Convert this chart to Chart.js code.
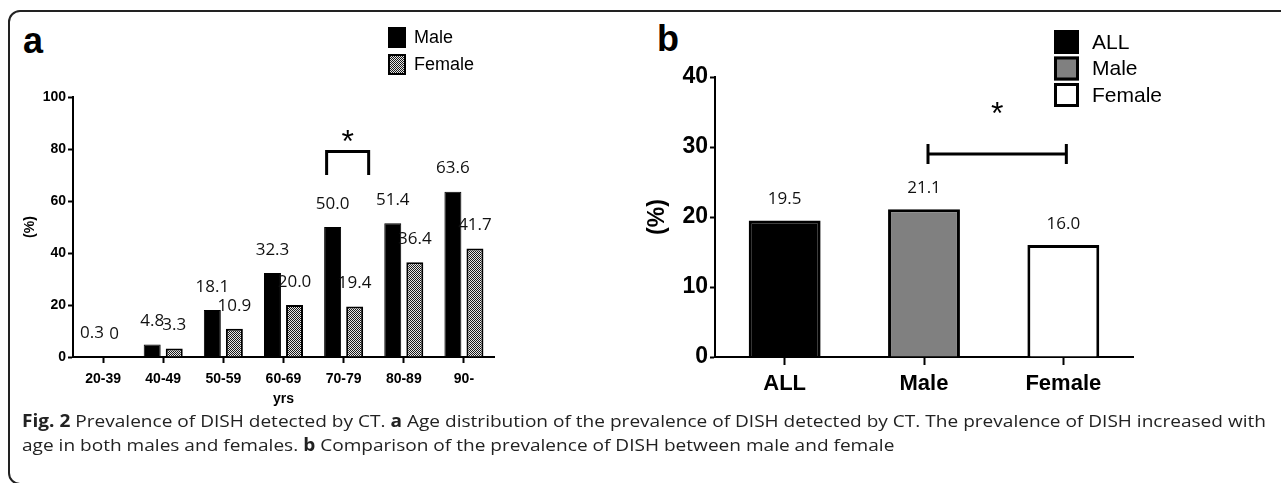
<!DOCTYPE html>
<html>
<head>
<meta charset="utf-8">
<script src="https://cdn.jsdelivr.net/npm/chart.js@4.4.1/dist/chart.umd.min.js"></script>
<style>
  body { margin: 0; background: #fff; width: 1281px; height: 483px; overflow: hidden; position: relative; font-family: 'Liberation Sans', Arial, sans-serif; }
  #frame { position: absolute; left: 8px; top: 10px; width: 1400px; height: 471px; border: 2px solid #222; border-radius: 12px; }
  .panel { position: absolute; font-weight: bold; font-size: 36px; line-height: 1; color: #000; }
  canvas { position: absolute; }
  #cap { position: absolute; left: 22px; top: 409px; font-family: 'Open Sans', sans-serif; font-size: 17px; line-height: 24px; color: #222; white-space: nowrap; transform-origin: 0 0; }
</style>
</head>
<body>
<div id="frame"></div>
<div class="panel" style="left:23px;top:23px">a</div>
<div class="panel" style="left:657px;top:21px">b</div>
<canvas id="chartA" width="520" height="410" style="left:0;top:0"></canvas>
<canvas id="chartB" width="641" height="410" style="left:640px;top:0"></canvas>
<div id="cap"><span id="line1"><b>Fig. 2</b> Prevalence of DISH detected by CT. <b>a</b> Age distribution of the prevalence of DISH detected by CT. The prevalence of DISH increased with</span><br><span>age in both males and females. <b>b</b> Comparison of the prevalence of DISH between male and female</span></div>

<script>
// panel a: prevalence by age group
var ageGroups = ['20-39', '40-49', '50-59', '60-69', '70-79', '80-89', '90-'];
var maleByAge = [0.3, 4.8, 18.1, 32.3, 50.0, 51.4, 63.6];
var femaleByAge = [0, 3.3, 10.9, 20.0, 19.4, 36.4, 41.7];

// panel b: overall prevalence
var groups = ['ALL', 'Male', 'Female'];
var prevalence = [19.5, 21.1, 16.0];

var SANS = "'Liberation Sans', Arial, sans-serif";
var LABEL_FONT = "'Open Sans', sans-serif";

function checker() {
  var c = document.createElement('canvas');
  c.width = 2; c.height = 2;
  var x = c.getContext('2d');
  x.fillStyle = '#e6e6e6'; x.fillRect(0, 0, 2, 2);
  x.fillStyle = '#1a1a1a'; x.fillRect(0, 0, 1, 1); x.fillRect(1, 1, 1, 1);
  return x.createPattern(c, 'repeat');
}
var femalePattern = checker();

function fmt(v) { return v === 0 ? '0' : v.toFixed(1); }

// value labels above every bar
var valueLabels = {
  id: 'valueLabels',
  afterDatasetsDraw: function(chart, args, opts) {
    var ctx = chart.ctx;
    ctx.save();
    ctx.font = opts.font;
    ctx.fillStyle = '#111';
    ctx.textAlign = 'center';
    ctx.textBaseline = 'middle';
    chart.data.datasets.forEach(function(ds, i) {
      chart.getDatasetMeta(i).data.forEach(function(bar, j) {
        ctx.fillText(fmt(ds.data[j]), bar.x, bar.y - opts.offset);
      });
    });
    ctx.restore();
  }
};

// stacked legend boxes
var boxLegend = {
  id: 'boxLegend',
  afterDraw: function(chart, args, opts) {
    var ctx = chart.ctx;
    ctx.save();
    ctx.font = opts.font;
    ctx.textBaseline = 'middle';
    ctx.textAlign = 'left';
    opts.items.forEach(function(it, i) {
      var top = opts.y + i * opts.rowH;
      ctx.fillStyle = it.fill;
      ctx.fillRect(opts.x, top, opts.w, opts.h);
      ctx.lineWidth = opts.lineWidth;
      ctx.strokeStyle = '#000';
      ctx.strokeRect(opts.x + opts.lineWidth / 2, top + opts.lineWidth / 2, opts.w - opts.lineWidth, opts.h - opts.lineWidth);
      ctx.fillStyle = '#000';
      ctx.fillText(it.label, opts.textX, top + opts.h / 2 + 1);
    });
    ctx.restore();
  }
};

function drawStar(ctx, x, y, size) {
  ctx.font = size + "px 'Liberation Sans'";
  ctx.textAlign = 'center';
  ctx.textBaseline = 'alphabetic';
  var m = ctx.measureText('*');
  ctx.fillText('*', x, y + (m.actualBoundingBoxAscent - m.actualBoundingBoxDescent) / 2);
}

// significance bracket for panel a (70-79 male vs female)
var bracketA = {
  id: 'bracketA',
  afterDraw: function(chart) {
    var ctx = chart.ctx, ys = chart.scales.y;
    var m = chart.getDatasetMeta(0).data[4], f = chart.getDatasetMeta(1).data[4];
    var l = m.x - 6, r = f.x + 14;
    var top = ys.getPixelForValue(79), low = ys.getPixelForValue(70);
    ctx.save();
    ctx.strokeStyle = '#000'; ctx.lineWidth = 3;
    ctx.beginPath();
    ctx.moveTo(l, low); ctx.lineTo(l, top); ctx.lineTo(r, top); ctx.lineTo(r, low);
    ctx.stroke();
    ctx.fillStyle = '#000';
    drawStar(ctx, (l + r) / 2, ys.getPixelForValue(85), 32);
    ctx.restore();
  }
};

// significance line for panel b (Male vs Female)
var bracketB = {
  id: 'bracketB',
  afterDraw: function(chart) {
    var ctx = chart.ctx, ys = chart.scales.y;
    var bars = chart.getDatasetMeta(0).data;
    var l = bars[1].x + 4, r = bars[2].x + 3;
    var y = ys.getPixelForValue(29);
    ctx.save();
    ctx.strokeStyle = '#000'; ctx.lineWidth = 3;
    ctx.beginPath();
    ctx.moveTo(l, y); ctx.lineTo(r, y);
    ctx.moveTo(l, y - 10); ctx.lineTo(l, y + 10);
    ctx.moveTo(r, y - 10); ctx.lineTo(r, y + 10);
    ctx.stroke();
    ctx.fillStyle = '#000';
    drawStar(ctx, (l + r) / 2, ys.getPixelForValue(35.6), 32);
    ctx.restore();
  }
};

Chart.defaults.color = '#000';
Chart.defaults.animation = false;

new Chart(document.getElementById('chartA'), {
  type: 'bar',
  data: {
    labels: ageGroups,
    datasets: [
      { label: 'Male', data: maleByAge, backgroundColor: '#000', borderColor: '#000', borderWidth: 1 },
      { label: 'Female', data: femaleByAge, backgroundColor: femalePattern, borderColor: '#000', borderWidth: 2 }
    ]
  },
  options: {
    responsive: false,
    categoryPercentage: 0.733,
    barPercentage: 0.77,
    layout: { padding: { left: 0, top: 97, right: 26, bottom: 0 } },
    scales: {
      y: {
        min: 0, max: 100,
        ticks: { stepSize: 20, padding: 2, font: { family: SANS, weight: 'bold', size: 14 } },
        grid: { drawOnChartArea: false, color: '#000', tickLength: 5, tickWidth: 2 },
        border: { color: '#000', width: 2 },
        title: { display: true, text: '(%)', font: { family: SANS, weight: 'bold', size: 14 }, padding: { top: 22, bottom: 0 } },
        afterFit: function(s) { s.width = 73; }
      },
      x: {
        ticks: { padding: 8, font: { family: SANS, weight: 'bold', size: 14 } },
        grid: { offset: false, drawOnChartArea: false, color: '#000', tickLength: 6, tickWidth: 2 },
        border: { color: '#000', width: 2 },
        title: { display: true, text: 'yrs', font: { family: SANS, weight: 'bold', size: 14 }, padding: { top: 0, bottom: 2 } },
        afterFit: function(s) { s.height = 53; }
      }
    },
    plugins: {
      legend: { display: false },
      tooltip: { enabled: false },
      valueLabels: { font: '17px ' + LABEL_FONT, offset: 23 },
      boxLegend: {
        x: 388, y: 27, w: 18, h: 21, rowH: 27, lineWidth: 2, textX: 414, font: '18px ' + SANS,
        items: [ { label: 'Male', fill: '#000' }, { label: 'Female', fill: femalePattern } ]
      }
    }
  },
  plugins: [valueLabels, boxLegend, bracketA]
});

new Chart(document.getElementById('chartB'), {
  type: 'bar',
  data: {
    labels: groups,
    datasets: [
      { data: prevalence, backgroundColor: ['#000', '#808080', '#fff'], borderColor: '#000', borderWidth: 3 }
    ]
  },
  options: {
    responsive: false,
    categoryPercentage: 0.8,
    barPercentage: 0.645,
    layout: { padding: { left: 0, top: 77, right: 148, bottom: 0 } },
    scales: {
      y: {
        min: 0, max: 40,
        ticks: { stepSize: 10, padding: 2, font: { family: SANS, weight: 'bold', size: 23 } },
        grid: { drawOnChartArea: false, color: '#000', tickLength: 5, tickWidth: 2 },
        border: { color: '#000', width: 2 },
        title: { display: true, text: '(%)', font: { family: SANS, weight: 'bold', size: 23 }, padding: { top: 4, bottom: 0 } },
        afterFit: function(s) { s.width = 75; }
      },
      x: {
        ticks: { padding: 6, font: { family: SANS, weight: 'bold', size: 22 } },
        grid: { offset: false, drawOnChartArea: false, color: '#000', tickLength: 8, tickWidth: 2 },
        border: { color: '#000', width: 2 },
        afterFit: function(s) { s.height = 53; }
      }
    },
    plugins: {
      legend: { display: false },
      tooltip: { enabled: false },
      valueLabels: { font: '17px ' + LABEL_FONT, offset: 21 },
      boxLegend: {
        x: 414, y: 30, w: 25, h: 24, rowH: 26.5, lineWidth: 3, textX: 452, font: '21px ' + SANS,
        items: [ { label: 'ALL', fill: '#000' }, { label: 'Male', fill: '#808080' }, { label: 'Female', fill: '#fff' } ]
      }
    }
  },
  plugins: [valueLabels, boxLegend, bracketB]
});

// stretch the caption to the width it takes in the figure
var w = document.getElementById('line1').getBoundingClientRect().width;
document.getElementById('cap').style.transform = 'scaleX(' + (1244 / w) + ')';
</script>
</body>
</html>
